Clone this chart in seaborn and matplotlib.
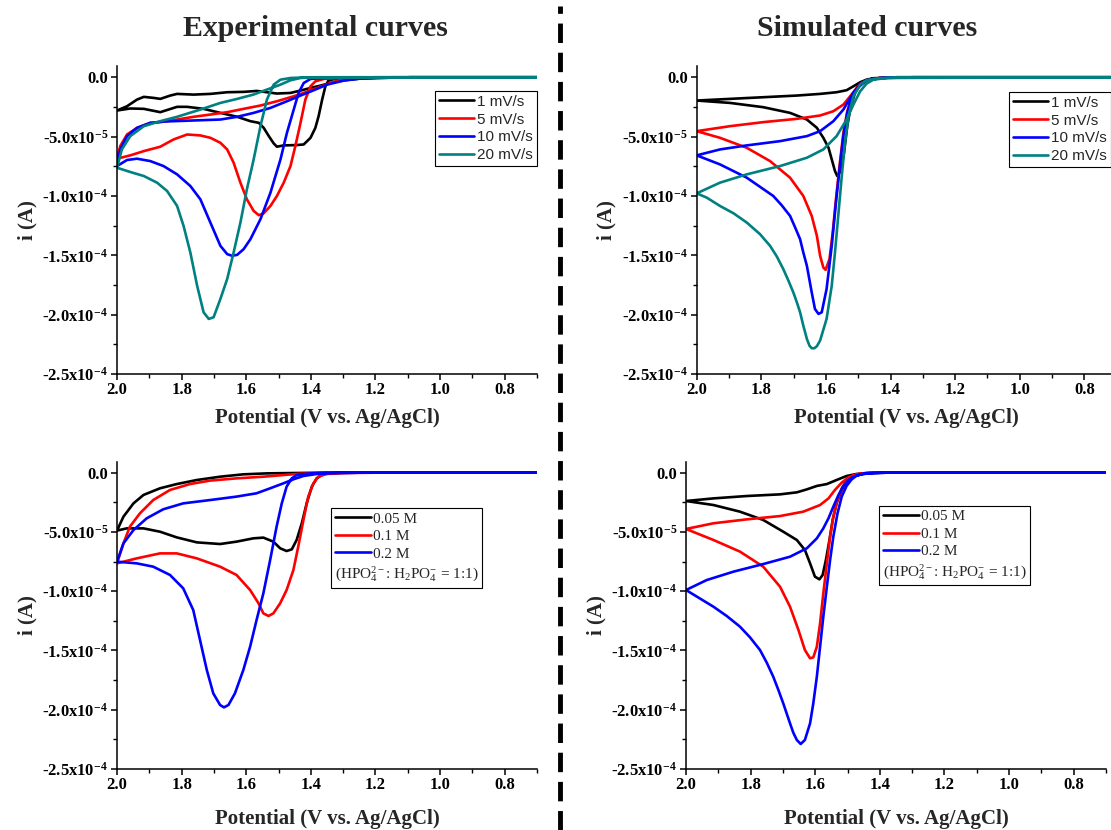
import numpy as np
import pandas as pd
import matplotlib
matplotlib.use("Agg")
import matplotlib.pyplot as plt
from matplotlib.lines import Line2D
from matplotlib.ticker import MultipleLocator
import seaborn as sns

# Potential in V vs. Ag/AgCl, current in units of 1e-5 A.
# Each cyclic voltammogram: "peak" branch and "return" branch, both listed from 2.0 V downwards.

# ---------------- Experimental, scan-rate series ----------------
exp_1_peak_v = [2.000, 1.959, 1.917, 1.866, 1.814, 1.783, 1.732, 1.680, 1.628, 1.587, 1.561, 1.546, 1.530, 1.515,
                1.505, 1.484, 1.443, 1.422, 1.401, 1.386, 1.376, 1.365, 1.355, 1.345, 1.319, 1.247, 1.143, 0.700]
exp_1_peak_i = [-2.80, -2.63, -2.66, -2.94, -2.49, -2.49, -2.66, -3.00, -3.33, -3.70, -3.84, -4.26, -4.96, -5.57,
                -5.85, -5.74, -5.71, -5.66, -5.10, -4.26, -3.28, -1.88, -0.76, -0.25, -0.11, -0.03, 0.0, 0.0]
exp_1_rev_v = [2.000, 1.969, 1.938, 1.917, 1.886, 1.866, 1.835, 1.814, 1.763, 1.711, 1.659, 1.608, 1.567, 1.536,
               1.505, 1.463, 1.432, 1.401, 1.370, 1.340, 1.298, 1.247, 1.195, 1.092, 0.700]
exp_1_rev_i = [-2.80, -2.44, -1.88, -1.65, -1.74, -1.82, -1.54, -1.40, -1.46, -1.40, -1.26, -1.23, -1.15, -1.26,
               -1.37, -1.32, -1.12, -0.90, -0.70, -0.48, -0.25, -0.11, -0.06, 0.0, 0.0]

exp_5_peak_v = [2.000, 1.959, 1.917, 1.866, 1.825, 1.783, 1.742, 1.711, 1.680, 1.659, 1.639, 1.618, 1.598, 1.577,
                1.561, 1.546, 1.525, 1.505, 1.484, 1.463, 1.448, 1.432, 1.417, 1.401, 1.386, 1.360, 1.298, 1.195,
                1.092, 0.700]
exp_5_peak_i = [-6.86, -6.58, -6.22, -5.85, -5.24, -4.82, -4.90, -5.10, -5.52, -6.08, -7.20, -8.88, -10.28, -11.26,
                -11.62, -11.46, -10.84, -10.00, -8.88, -7.48, -5.80, -3.84, -1.88, -0.76, -0.34, -0.14, -0.06, -0.03,
                0.0, 0.0]
exp_5_rev_v = [2.000, 1.990, 1.969, 1.938, 1.897, 1.866, 1.814, 1.763, 1.711, 1.659, 1.608, 1.556, 1.505, 1.453,
               1.422, 1.381, 1.340, 1.298, 1.247, 1.195, 1.092, 0.700]
exp_5_rev_i = [-6.86, -5.80, -4.82, -4.26, -3.84, -3.78, -3.56, -3.33, -3.14, -2.94, -2.66, -2.38, -2.02, -1.60,
               -1.32, -0.90, -0.48, -0.20, -0.08, -0.03, 0.0, 0.0]

exp_10_peak_v = [2.000, 1.969, 1.938, 1.897, 1.856, 1.814, 1.773, 1.742, 1.711, 1.680, 1.659, 1.644, 1.628, 1.608,
                 1.587, 1.556, 1.525, 1.494, 1.474, 1.453, 1.438, 1.422, 1.401, 1.360, 1.298, 1.195, 0.700]
exp_10_peak_i = [-7.48, -6.97, -6.86, -7.06, -7.48, -8.18, -9.16, -10.28, -12.24, -14.20, -14.90, -15.04, -14.96,
                 -14.48, -13.64, -11.96, -9.72, -6.92, -4.68, -2.72, -1.32, -0.48, -0.14, -0.06, -0.03, 0.0, 0.0]
exp_10_rev_v = [2.000, 1.990, 1.969, 1.938, 1.897, 1.856, 1.794, 1.732, 1.680, 1.628, 1.577, 1.525, 1.474, 1.432,
                1.391, 1.350, 1.298, 1.247, 1.195, 1.092, 0.700]
exp_10_rev_i = [-7.48, -6.08, -4.96, -4.26, -3.84, -3.73, -3.67, -3.61, -3.56, -3.33, -3.00, -2.58, -2.02, -1.54,
                -1.09, -0.62, -0.28, -0.11, -0.06, 0.0, 0.0]

exp_20_peak_v = [2.000, 1.959, 1.917, 1.876, 1.845, 1.814, 1.794, 1.773, 1.752, 1.732, 1.716, 1.701, 1.680, 1.659,
                 1.639, 1.618, 1.598, 1.577, 1.556, 1.536, 1.515, 1.494, 1.463, 1.401, 0.700]
exp_20_peak_i = [-7.62, -7.98, -8.32, -8.88, -9.58, -10.84, -12.52, -14.76, -17.56, -19.80, -20.36, -20.22, -18.68,
                 -17.00, -14.76, -12.24, -9.44, -6.92, -4.12, -1.88, -0.62, -0.20, -0.06, 0.0, 0.0]
exp_20_rev_v = [2.000, 1.985, 1.959, 1.917, 1.866, 1.814, 1.742, 1.680, 1.628, 1.578, 1.536, 1.494, 1.463, 1.432,
                1.381, 0.700]
exp_20_rev_i = [-7.62, -6.08, -4.96, -4.12, -3.70, -3.33, -2.72, -2.16, -1.82, -1.46, -1.04, -0.62, -0.25, -0.06,
                0.0, 0.0]

# ---------------- Simulated, scan-rate series ----------------
sim_1_peak_v = [2.000, 1.897, 1.794, 1.711, 1.659, 1.628, 1.608, 1.592, 1.582, 1.572, 1.565, 1.554, 1.544, 1.534,
                1.523, 1.510, 1.494, 1.474, 1.453, 1.412, 1.329, 0.700]
sim_1_peak_i = [-1.96, -2.16, -2.52, -3.00, -3.56, -4.26, -5.10, -5.94, -6.92, -7.90, -8.32, -7.90, -6.36, -4.12,
                -2.44, -1.32, -0.62, -0.25, -0.11, -0.03, 0.0, 0.0]
sim_1_rev_v = [2.000, 1.897, 1.794, 1.690, 1.618, 1.567, 1.536, 1.515, 1.494, 1.474, 1.453, 1.412, 1.329, 0.700]
sim_1_rev_i = [-1.96, -1.82, -1.68, -1.54, -1.40, -1.26, -1.09, -0.76, -0.42, -0.20, -0.08, -0.03, 0.0, 0.0]

sim_5_peak_v = [2.000, 1.928, 1.845, 1.773, 1.711, 1.670, 1.644, 1.628, 1.618, 1.608, 1.601, 1.589, 1.579, 1.569,
                1.558, 1.546, 1.534, 1.518, 1.494, 1.474, 1.432, 1.381, 0.700]
sim_5_peak_i = [-4.54, -5.10, -5.94, -7.06, -8.46, -10.00, -11.68, -13.36, -15.04, -16.03, -16.22, -15.32, -13.08,
                -10.28, -7.48, -4.68, -2.86, -1.46, -0.56, -0.25, -0.06, 0.0, 0.0]
sim_5_rev_v = [2.000, 1.897, 1.794, 1.690, 1.618, 1.577, 1.546, 1.525, 1.505, 1.484, 1.463, 1.432, 1.381, 0.700]
sim_5_rev_i = [-4.54, -4.12, -3.78, -3.50, -3.22, -2.86, -2.30, -1.60, -0.90, -0.42, -0.20, -0.06, 0.0, 0.0]

sim_10_peak_v = [2.000, 1.928, 1.845, 1.763, 1.737, 1.711, 1.696, 1.680, 1.670, 1.659, 1.644, 1.634, 1.623, 1.613,
                 1.598, 1.582, 1.569, 1.558, 1.546, 1.534, 1.518, 1.494, 1.474, 1.432, 1.381, 0.700]
sim_10_peak_i = [-6.58, -7.34, -8.46, -10.00, -10.78, -11.68, -12.61, -13.64, -14.76, -15.88, -18.12, -19.52,
                 -19.94, -19.80, -17.84, -14.20, -10.56, -7.76, -4.96, -3.00, -1.46, -0.59, -0.25, -0.06, 0.0, 0.0]
sim_10_rev_v = [2.000, 1.928, 1.845, 1.742, 1.659, 1.618, 1.577, 1.546, 1.525, 1.505, 1.484, 1.463, 1.432, 1.381,
                0.700]
sim_10_rev_i = [-6.58, -6.08, -5.74, -5.38, -4.96, -4.54, -3.70, -2.72, -1.74, -0.98, -0.48, -0.22, -0.08, 0.0, 0.0]

sim_20_peak_v = [2.000, 1.969, 1.928, 1.886, 1.845, 1.804, 1.773, 1.752, 1.732, 1.716, 1.701, 1.690, 1.680, 1.670,
                 1.659, 1.651, 1.644, 1.636, 1.628, 1.618, 1.598, 1.582, 1.572, 1.561, 1.551, 1.541, 1.530, 1.515,
                 1.494, 1.474, 1.432, 0.700]
sim_20_peak_i = [-9.78, -10.14, -10.84, -11.46, -12.24, -13.22, -14.20, -15.10, -16.16, -17.14, -18.12, -18.96,
                 -19.80, -20.92, -22.04, -22.61, -22.83, -22.83, -22.66, -22.18, -20.36, -17.56, -14.76, -11.40,
                 -8.32, -5.52, -3.28, -1.60, -0.62, -0.25, -0.06, 0.0]
sim_20_rev_v = [2.000, 1.928, 1.845, 1.742, 1.659, 1.608, 1.567, 1.536, 1.515, 1.494, 1.474, 1.453, 1.412, 1.329,
                0.700]
sim_20_rev_i = [-9.78, -8.88, -8.18, -7.48, -6.78, -6.08, -4.96, -3.56, -2.30, -1.18, -0.53, -0.20, -0.06, 0.0, 0.0]

# ---------------- Experimental, concentration series ----------------
exp_005_peak_v = [2.000, 1.970, 1.918, 1.867, 1.815, 1.753, 1.681, 1.630, 1.578, 1.547, 1.516, 1.495, 1.475, 1.459,
                  1.444, 1.428, 1.413, 1.397, 1.382, 1.361, 1.320, 1.248, 0.700]
exp_005_peak_i = [-4.89, -4.70, -4.70, -4.98, -5.46, -5.88, -6.02, -5.82, -5.54, -5.48, -5.82, -6.38, -6.61, -6.47,
                  -5.68, -4.27, -2.59, -1.18, -0.48, -0.11, -0.03, 0.0, 0.0]
exp_005_rev_v = [2.000, 1.980, 1.949, 1.918, 1.867, 1.815, 1.753, 1.681, 1.609, 1.537, 1.454, 1.351, 0.700]
exp_005_rev_i = [-4.89, -3.71, -2.59, -1.88, -1.32, -0.96, -0.62, -0.34, -0.14, -0.06, -0.03, 0.0, 0.0]

exp_01_peak_v = [2.000, 1.939, 1.867, 1.815, 1.753, 1.681, 1.630, 1.588, 1.562, 1.547, 1.531, 1.516, 1.495, 1.475,
                 1.454, 1.439, 1.423, 1.408, 1.392, 1.377, 1.351, 1.299, 1.196, 0.700]
exp_01_peak_i = [-7.65, -7.23, -6.81, -6.81, -7.23, -7.93, -8.63, -9.90, -11.02, -11.87, -12.09, -11.87, -11.02,
                 -9.90, -8.21, -6.24, -3.99, -2.02, -0.90, -0.34, -0.11, -0.03, 0.0, 0.0]
exp_01_rev_v = [2.000, 1.980, 1.960, 1.929, 1.888, 1.836, 1.774, 1.712, 1.630, 1.547, 1.485, 1.444, 1.402, 1.299,
                0.700]
exp_01_rev_i = [-7.65, -5.96, -4.55, -3.43, -2.31, -1.46, -0.96, -0.67, -0.48, -0.34, -0.20, -0.11, -0.06, 0.0, 0.0]

exp_02_peak_v = [2.000, 1.939, 1.888, 1.836, 1.795, 1.764, 1.743, 1.722, 1.702, 1.681, 1.669, 1.655, 1.635, 1.609,
                 1.588, 1.568, 1.547, 1.526, 1.506, 1.490, 1.475, 1.459, 1.444, 1.402, 1.351, 0.700]
exp_02_peak_i = [-7.51, -7.65, -7.93, -8.63, -9.76, -11.59, -14.12, -16.65, -18.62, -19.60, -19.80, -19.60, -18.62,
                 -16.65, -14.68, -12.43, -10.18, -7.37, -4.55, -2.59, -1.18, -0.48, -0.20, -0.06, 0.0, 0.0]
exp_02_rev_v = [2.000, 1.980, 1.949, 1.908, 1.857, 1.795, 1.712, 1.630, 1.568, 1.526, 1.485, 1.454, 1.423, 1.382,
                1.320, 1.248, 0.700]
exp_02_rev_i = [-7.51, -5.96, -4.84, -3.85, -3.09, -2.59, -2.31, -2.02, -1.74, -1.32, -0.90, -0.56, -0.28, -0.11,
                -0.03, 0.0, 0.0]

# ---------------- Simulated, concentration series ----------------
sim_005_peak_v = [2.000, 1.915, 1.833, 1.761, 1.699, 1.657, 1.632, 1.616, 1.601, 1.587, 1.577, 1.567, 1.556, 1.546,
                  1.534, 1.518, 1.503, 1.482, 1.461, 1.430, 1.379, 0.700]
sim_005_peak_i = [-2.39, -2.73, -3.29, -3.99, -4.98, -5.68, -6.52, -7.65, -8.77, -9.00, -8.63, -7.37, -5.68, -3.99,
                  -2.59, -1.46, -0.76, -0.34, -0.14, -0.03, 0.0, 0.0]
sim_005_rev_v = [2.000, 1.915, 1.812, 1.709, 1.657, 1.626, 1.595, 1.564, 1.534, 1.503, 1.472, 1.441, 1.399, 0.700]
sim_005_rev_i = [-2.39, -2.17, -1.97, -1.83, -1.66, -1.41, -1.12, -0.96, -0.62, -0.28, -0.11, -0.03, 0.0, 0.0]

sim_01_peak_v = [2.000, 1.915, 1.833, 1.761, 1.709, 1.678, 1.652, 1.632, 1.616, 1.606, 1.595, 1.585, 1.575, 1.564,
                 1.554, 1.544, 1.531, 1.518, 1.503, 1.482, 1.456, 1.420, 0.700]
sim_01_peak_i = [-4.75, -5.68, -6.66, -7.93, -9.62, -11.31, -13.27, -14.96, -15.66, -15.58, -14.68, -12.71, -10.18,
                 -7.65, -5.40, -3.71, -2.31, -1.32, -0.67, -0.25, -0.08, 0.0, 0.0]
sim_01_rev_v = [2.000, 1.915, 1.812, 1.709, 1.637, 1.585, 1.559, 1.539, 1.518, 1.497, 1.472, 1.441, 1.399, 0.700]
sim_01_rev_i = [-4.75, -4.27, -3.94, -3.66, -3.29, -2.73, -2.17, -1.46, -0.84, -0.39, -0.14, -0.03, 0.0, 0.0]

sim_02_peak_v = [2.000, 1.915, 1.874, 1.833, 1.802, 1.771, 1.750, 1.730, 1.714, 1.699, 1.678, 1.668, 1.657, 1.645,
                 1.632, 1.616, 1.606, 1.595, 1.585, 1.575, 1.564, 1.554, 1.544, 1.531, 1.518, 1.503, 1.487, 1.472,
                 1.451, 1.420, 1.379, 0.700]
sim_02_peak_i = [-9.90, -11.31, -12.09, -12.99, -13.89, -14.96, -16.03, -17.21, -18.34, -19.46, -21.15, -21.93,
                 -22.55, -22.89, -22.55, -21.15, -19.46, -17.21, -14.68, -12.15, -9.62, -7.37, -5.40, -3.43, -2.02,
                 -1.12, -0.56, -0.25, -0.11, -0.03, 0.0, 0.0]
sim_02_rev_v = [2.000, 1.936, 1.853, 1.761, 1.678, 1.626, 1.595, 1.575, 1.559, 1.544, 1.528, 1.513, 1.497, 1.482,
                1.456, 1.420, 1.379, 0.700]
sim_02_rev_i = [-9.90, -9.06, -8.35, -7.71, -7.09, -6.38, -5.54, -4.70, -3.85, -2.87, -1.88, -1.12, -0.62, -0.34,
                -0.11, -0.03, 0.0, 0.0]

rate_labels = ["1 mV/s", "5 mV/s", "10 mV/s", "20 mV/s"]
rate_colors = ["#000000", "#ff0000", "#0000ff", "#008080"]
conc_labels = ["0.05 M", "0.1 M", "0.2 M"]
conc_colors = ["#000000", "#ff0000", "#0000ff"]
buffer_note = "(HPO$_4^{2-}$: H$_2$PO$_4^{-}$ = 1:1)"

xtick_values = [2.0, 1.8, 1.6, 1.4, 1.2, 1.0, 0.8]
xtick_labels = ["2.0", "1.8", "1.6", "1.4", "1.2", "1.0", "0.8"]
ytick_values = [0.0, -5e-5, -1e-4, -1.5e-4, -2e-4, -2.5e-4]
ytick_labels = ["0.0", "-5.0x10$^{-5}$", "-1.0x10$^{-4}$", "-1.5x10$^{-4}$", "-2.0x10$^{-4}$", "-2.5x10$^{-4}$"]

panel_titles = ["Experimental curves", "Simulated curves"]
x_label = "Potential (V vs. Ag/AgCl)"
y_label = "i (A)"

sns.set_style("ticks")
plt.rcParams.update({
    "font.family": ["Liberation Serif", "DejaVu Serif"],
    "mathtext.fontset": "custom",
    "mathtext.rm": "Liberation Serif",
    "mathtext.it": "Liberation Serif:italic",
    "mathtext.bf": "Liberation Serif:bold",
    "mathtext.default": "regular",
    "axes.linewidth": 1.1,
    "axes.edgecolor": "black",
    "xtick.color": "black",
    "ytick.color": "black",
    "xtick.direction": "out",
    "ytick.direction": "out",
})


def cv_frame(curves):
    frames = []
    for label, (pv, pi, rv, ri) in curves.items():
        v = np.concatenate([np.asarray(pv)[::-1], np.asarray(rv)[1:]])
        i = np.concatenate([np.asarray(pi)[::-1], np.asarray(ri)[1:]]) * 1e-5
        frames.append(pd.DataFrame({"potential": v, "current": i, "curve": label}))
    return pd.concat(frames, ignore_index=True)


def style_axes(ax, ytop, xlabel_y, ylabel_x):
    ax.set_xlim(2.0, 0.7)
    ax.set_ylim(-2.5e-4, ytop)
    ax.set_xticks(xtick_values, xtick_labels)
    ax.set_yticks(ytick_values, ytick_labels)
    ax.xaxis.set_minor_locator(MultipleLocator(0.1))
    ax.yaxis.set_minor_locator(MultipleLocator(2.5e-5))
    ax.tick_params(which="major", length=4, width=1.1, labelsize=12)
    ax.tick_params(which="minor", length=3, width=1.0)
    ax.tick_params(axis="x", which="major", pad=1.5)
    ax.tick_params(axis="y", which="major", pad=2.5)
    for lab in ax.get_xticklabels() + ax.get_yticklabels():
        lab.set_fontweight("bold")
    ax.set_xlabel(x_label, fontsize=15, fontweight="bold")
    ax.set_ylabel(y_label, fontsize=15, fontweight="bold")
    ax.xaxis.set_label_coords(0.5, xlabel_y)
    ax.yaxis.set_label_coords(ylabel_x, 0.5)
    sns.despine(ax=ax)
    ax.grid(False)


def draw_panel(ax, curves, labels, colors):
    df = cv_frame(curves)
    sns.lineplot(data=df, x="potential", y="current", hue="curve", hue_order=labels,
                 palette=dict(zip(labels, colors)), sort=False, estimator=None,
                 linewidth=1.9, legend=False, ax=ax)


fig = plt.figure(figsize=(11.11, 8.30), dpi=100)
W, H = 1111.0, 830.0

ax_tl = fig.add_axes([117 / W, 1 - 374 / H, 420 / W, 308 / H])
ax_tr = fig.add_axes([696.7 / W, 1 - 374 / H, 420 / W, 308 / H])
ax_bl = fig.add_axes([117 / W, 1 - 769 / H, 420 / W, 307 / H])
ax_br = fig.add_axes([686 / W, 1 - 769 / H, 420 / W, 307 / H])

draw_panel(ax_tl, {
    "1 mV/s": (exp_1_peak_v, exp_1_peak_i, exp_1_rev_v, exp_1_rev_i),
    "5 mV/s": (exp_5_peak_v, exp_5_peak_i, exp_5_rev_v, exp_5_rev_i),
    "10 mV/s": (exp_10_peak_v, exp_10_peak_i, exp_10_rev_v, exp_10_rev_i),
    "20 mV/s": (exp_20_peak_v, exp_20_peak_i, exp_20_rev_v, exp_20_rev_i),
}, rate_labels, rate_colors)

draw_panel(ax_tr, {
    "1 mV/s": (sim_1_peak_v, sim_1_peak_i, sim_1_rev_v, sim_1_rev_i),
    "5 mV/s": (sim_5_peak_v, sim_5_peak_i, sim_5_rev_v, sim_5_rev_i),
    "10 mV/s": (sim_10_peak_v, sim_10_peak_i, sim_10_rev_v, sim_10_rev_i),
    "20 mV/s": (sim_20_peak_v, sim_20_peak_i, sim_20_rev_v, sim_20_rev_i),
}, rate_labels, rate_colors)

draw_panel(ax_bl, {
    "0.05 M": (exp_005_peak_v, exp_005_peak_i, exp_005_rev_v, exp_005_rev_i),
    "0.1 M": (exp_01_peak_v, exp_01_peak_i, exp_01_rev_v, exp_01_rev_i),
    "0.2 M": (exp_02_peak_v, exp_02_peak_i, exp_02_rev_v, exp_02_rev_i),
}, conc_labels, conc_colors)

draw_panel(ax_br, {
    "0.05 M": (sim_005_peak_v, sim_005_peak_i, sim_005_rev_v, sim_005_rev_i),
    "0.1 M": (sim_01_peak_v, sim_01_peak_i, sim_01_rev_v, sim_01_rev_i),
    "0.2 M": (sim_02_peak_v, sim_02_peak_i, sim_02_rev_v, sim_02_rev_i),
}, conc_labels, conc_colors)

style_axes(ax_tl, 0.95e-5, -0.11, -0.19)
style_axes(ax_tr, 0.95e-5, -0.11, -0.19)
style_axes(ax_bl, 0.9e-5, -0.13, -0.19)
style_axes(ax_br, 0.9e-5, -0.13, -0.19)


def rate_legend(ax, loc, anchor):
    handles = [Line2D([], [], color=c, lw=1.9) for c in rate_colors]
    leg = ax.legend(handles, rate_labels, loc=loc, bbox_to_anchor=anchor, borderaxespad=0,
                    prop={"family": "Liberation Sans", "size": 11}, frameon=True, fancybox=False,
                    framealpha=1, edgecolor="black", handlelength=2.3, handletextpad=0.2,
                    labelspacing=0.25, borderpad=0.25)
    leg.get_frame().set_linewidth(0.8)


def conc_legend(ax, anchor):
    handles = [Line2D([], [], color=c, lw=1.9) for c in conc_colors] + [Line2D([], [], alpha=0)]
    leg = ax.legend(handles, conc_labels + [buffer_note], loc="upper left", bbox_to_anchor=anchor,
                    borderaxespad=0, prop={"family": "Liberation Serif", "size": 11}, frameon=True,
                    fancybox=False, framealpha=1, edgecolor="black", handlelength=2.4,
                    handletextpad=0.1, labelspacing=0.25, borderpad=0.25)
    leg.get_frame().set_linewidth(0.8)
    # the buffer note sits flush left, without a line sample
    for column in leg._legend_handle_box.get_children():
        for row in column.get_children():
            parts = row.get_children()
            if len(parts) == 2 and parts[1].get_children()[0].get_text().startswith("("):
                parts.remove(parts[0])


rate_legend(ax_tl, "upper right", (1.0, 0.919))
rate_legend(ax_tr, "upper left", (0.7436, 0.916))
conc_legend(ax_bl, (0.5095, 0.850))
conc_legend(ax_br, (0.4595, 0.857))

# column headings and the dashed divider between them
fig.text(315 / W, 1 - 36 / H, panel_titles[0], ha="center", va="baseline", fontsize=21.5,
         fontweight="bold", family="Liberation Serif")
fig.text(867 / W, 1 - 36 / H, panel_titles[1], ha="center", va="baseline", fontsize=21.5,
         fontweight="bold", family="Liberation Serif")
fig.add_artist(Line2D([560 / W, 560 / W], [0.0, 1 - 6 / H], transform=fig.transFigure, color="black",
                      lw=3.5, linestyle=(0, (4, 2))))

fig.savefig("out.png", dpi=100, facecolor="white")
